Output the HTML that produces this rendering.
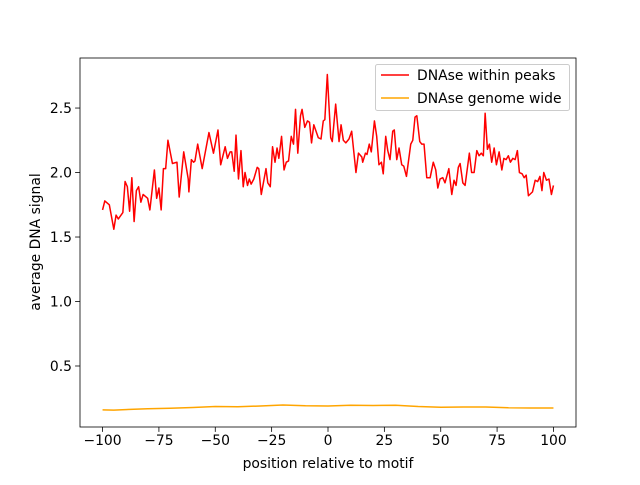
<!DOCTYPE html>
<html><head><meta charset="utf-8"><style>
body{margin:0;background:#fff}
svg text{font-family:"DejaVu Sans","Liberation Sans",sans-serif;font-size:13.9px;fill:#000}
</style></head><body>
<svg id="chart" width="640" height="480" xmlns="http://www.w3.org/2000/svg"></svg>
<script>
const peakPos = [-100,-99,-97,-95,-94,-93,-91,-90,-89,-88,-87,-86,-85,-84,-83,-82,-80,-79,-77,-76,-75,-74,-73,-72,-71,-69,-67,-66,-64,-62,-61.7,-60.6,-59.6,-59,-57.8,-55.8,-52.8,-50.8,-48.8,-47.6,-45.6,-44.6,-43.4,-42.7,-41.6,-40.8,-39.7,-38.6,-37.6,-36.8,-35.7,-34.9,-34.1,-32.9,-31.4,-30.7,-29.6,-27.5,-26.7,-25.6,-24.6,-23.5,-22.6,-21.8,-20.6,-19.5,-18.5,-17.5,-16.3,-15.3,-14.4,-13.4,-12.2,-11.5,-10.3,-9.1,-8.2,-7.3,-6.3,-4.3,-3.1,-2.1,-1.4,-0.3,1.2,1.9,3.4,4.9,5.8,6.8,7.9,9.3,10.5,12.4,13.5,15,15.4,16.6,17.3,18.3,19.2,20.6,21.6,22.6,23.7,24.5,25.6,26.5,27.5,28.7,29.4,30.5,31.5,32.7,33.6,34.8,36.7,37.6,38.6,39.4,40.7,41.6,42.6,43.8,45.3,46.7,47.8,48.7,49.7,50.9,51.9,53.6,54.9,55.9,56.8,57.8,58.6,59.8,60.8,62.7,63.7,64.8,66,67,68,68.9,69.7,70.7,71.6,72.6,73.7,74.7,75.9,77.1,78,79,80,80.9,82,83,84,84.9,86.1,87,87.9,88.9,90.7,91.9,93,94,94.9,95.7,96.9,98,99.1,100];
const peakVals = [1.71,1.78,1.75,1.56,1.67,1.64,1.69,1.93,1.89,1.70,1.96,1.62,1.86,1.89,1.77,1.83,1.80,1.71,2.02,1.80,1.88,1.71,2.03,2.03,2.25,2.07,2.08,1.81,2.16,1.95,1.85,2.10,2.08,2.09,2.22,2.03,2.31,2.15,2.33,2.06,2.20,2.11,2.16,2.16,2.01,2.29,1.95,2.17,1.89,2.00,1.90,1.95,1.91,1.95,2.04,2.03,1.83,2.03,1.92,1.89,2.20,2.08,2.19,2.11,2.28,2.02,2.08,2.09,2.28,2.22,2.49,2.15,2.44,2.49,2.35,2.40,2.39,2.23,2.37,2.27,2.26,2.40,2.41,2.76,2.27,2.24,2.53,2.24,2.37,2.25,2.23,2.26,2.32,2.00,2.15,2.12,2.08,2.15,2.14,2.22,2.16,2.40,2.28,2.06,2.08,1.99,2.28,2.17,2.10,2.32,2.33,2.10,2.19,2.06,2.05,1.97,2.22,2.25,2.43,2.44,2.24,2.22,2.22,1.96,1.96,2.08,2.02,1.88,1.95,1.96,1.92,2.03,1.83,1.94,1.90,2.04,2.07,1.92,1.90,2.15,2.00,2.00,2.17,2.13,2.15,2.13,2.46,2.18,2.22,2.08,2.19,2.06,2.16,2.02,2.11,2.10,2.13,2.08,2.11,2.10,2.17,2.00,1.99,1.96,1.98,1.82,1.85,1.94,1.93,1.97,1.86,2.00,1.94,1.95,1.83,1.90];
const genomePos = [-100,-95,-90,-80,-70,-60,-50,-40,-30,-20,-10,0,10,20,30,40,50,60,70,80,90,100];
const genomeVals = [0.160,0.158,0.162,0.168,0.172,0.178,0.186,0.184,0.190,0.198,0.192,0.190,0.196,0.194,0.196,0.186,0.180,0.182,0.182,0.176,0.174,0.174];
const xTicks = [-100,-75,-50,-25,0,25,50,75,100];
const yTicks = [0.5,1.0,1.5,2.0,2.5];
const yTickLabels = ["0.5","1.0","1.5","2.0","2.5"];

const L=80,R=576,T=58,B=427;
const xMin=-110,xMax=110,yMin=0.027,yMax=2.888;
const X=v=>L+(v-xMin)/(xMax-xMin)*(R-L);
const Y=v=>B-(v-yMin)/(yMax-yMin)*(B-T);
const svg=document.getElementById('chart');
const NS='http://www.w3.org/2000/svg';
function mk(tag,attrs,parent){const e=document.createElementNS(NS,tag);for(const k in attrs)e.setAttribute(k,attrs[k]);(parent||svg).appendChild(e);return e;}

function line(pos,vals,color,name){
  const d=pos.map((p,i)=>(i?'L':'M')+X(p).toFixed(2)+' '+Y(vals[i]).toFixed(2)).join(' ');
  const p=mk('path',{d:d,fill:'none',stroke:color,'stroke-width':1.5,'stroke-linejoin':'round'});
  
  
}
line(genomePos,genomeVals,'#ffa500','genome-wide-line');
line(peakPos,peakVals,'#ff0000','within-peaks-line');

const frame=mk('rect',{x:L,y:T,width:R-L,height:B-T,fill:'none',stroke:'#000','stroke-width':0.8});



xTicks.forEach(t=>{
  const x=X(t);
  const tk=mk('line',{x1:x,x2:x,y1:B,y2:B+4.9,stroke:'#000','stroke-width':0.8});
  
  
  const tx=mk('text',{x:x,y:B+18,'text-anchor':'middle'});
  tx.textContent=String(t).replace('-','\u2212');
  
  
});
yTicks.forEach((t,i)=>{
  const y=Y(t);
  const tk=mk('line',{x1:L-4.9,x2:L,y1:y,y2:y,stroke:'#000','stroke-width':0.8});
  
  
  const tx=mk('text',{x:L-8,y:y+5,'text-anchor':'end'});
  tx.textContent=yTickLabels[i];
  
  
});
</script>
<svg style="position:absolute;left:0;top:0" width="640" height="480" xmlns="http://www.w3.org/2000/svg">
<text x="328" y="468" text-anchor="middle" style="font-family:'DejaVu Sans',sans-serif;font-size:13.9px">position relative to motif</text>
<text transform="translate(40,242) rotate(-90)" text-anchor="middle" style="font-family:'DejaVu Sans',sans-serif;font-size:13.9px">average DNA signal</text>
<g>
<rect x="375.5" y="64.5" width="194" height="46" rx="2" fill="#fff" fill-opacity="0.8" stroke="#ccc" stroke-width="1"/>
<line x1="381" x2="409" y1="75" y2="75" stroke="#ff0000" stroke-width="1.5"/>
<text x="417" y="80" style="font-family:'DejaVu Sans',sans-serif;font-size:13.9px">DNAse within peaks</text>
<line x1="381" x2="409" y1="98" y2="98" stroke="#ffa500" stroke-width="1.5"/>
<text x="417" y="103" style="font-family:'DejaVu Sans',sans-serif;font-size:13.9px">DNAse genome wide</text>
</g>
</svg>
</body></html>
